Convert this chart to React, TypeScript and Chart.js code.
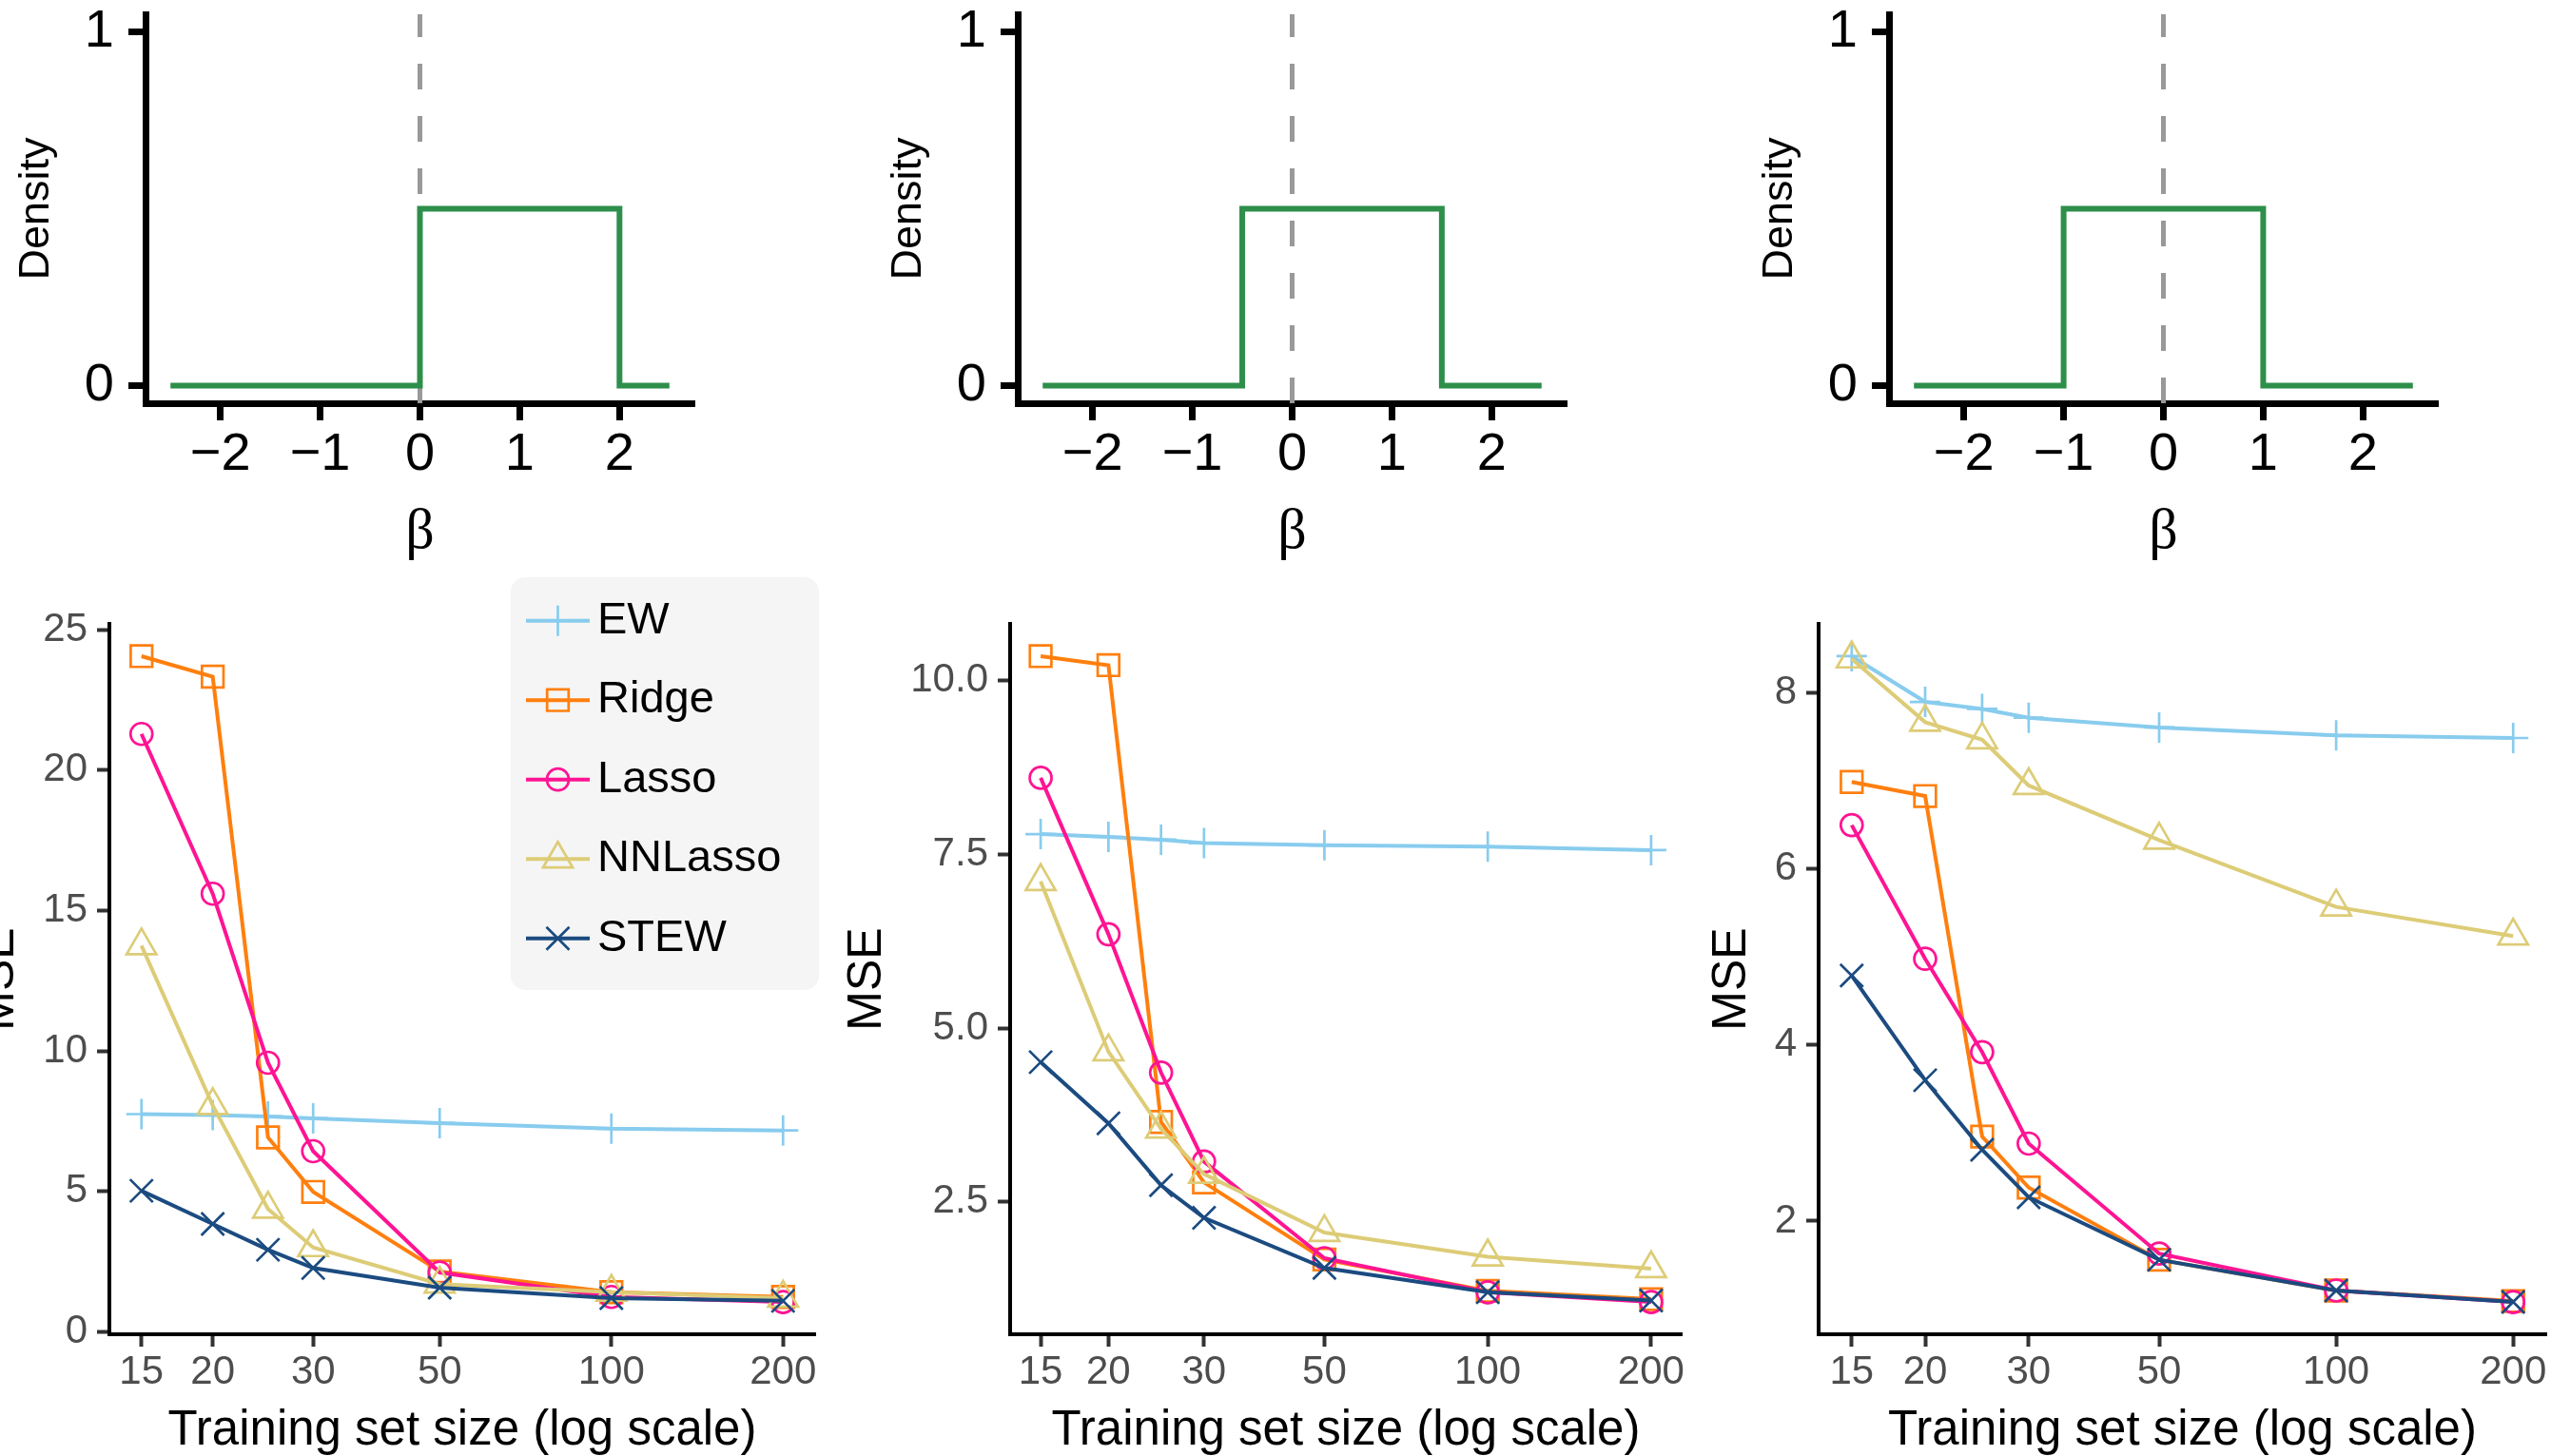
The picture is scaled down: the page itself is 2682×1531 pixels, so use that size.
import React, { useEffect, useRef } from 'react';
import { Chart, registerables } from 'chart.js';

Chart.register(...registerables);

const SANS = "'Liberation Sans', Arial, Helvetica, sans-serif";
const SERIF = "'Liberation Serif', 'Times New Roman', serif";
Chart.defaults.font.family = SANS;

// ---------- Top row: prior densities of beta ----------
const densityY = [0, 0, 0.5, 0.5, 0, 0];
const densityX1 = [-2.5, 0, 0, 2, 2, 2.5];
const densityX2 = [-2.5, -0.5, -0.5, 1.5, 1.5, 2.5];
const densityX3 = [-2.5, -1, -1, 1, 1, 2.5];
const zeroLineX = [0, 0];
const zeroLineY = [-0.05, 1.05];
const betaTicks = [-2, -1, 0, 1, 2];
const densityTicks = [0, 1];
const betaRange = [-2.75, 2.75];
const densityRange = [-0.05, 1.05];

// ---------- Bottom row: MSE vs training set size ----------
const trainSizes = [15, 20, 25, 30, 50, 100, 200];
const sizeTicks = [15, 20, 30, 50, 100, 200];
const methods = ['EW', 'Ridge', 'Lasso', 'NNLasso', 'STEW'];
const methodColors = ['#88CCEE', '#FF7F0E', '#FF1493', '#DDCC77', '#1B4B80'];
const methodShapes = ['cross', 'rect', 'circle', 'triangle', 'crossRot'];
const methodRadii = [16, 16, 11.5, 18, 17];

const mse1EW = [7.75, 7.72, 7.67, 7.6, 7.43, 7.23, 7.17];
const mse1Ridge = [24.06, 23.33, 6.92, 4.98, 2.15, 1.41, 1.24];
const mse1Lasso = [21.29, 15.6, 9.58, 6.43, 2.11, 1.24, 1.06];
const mse1NNLasso = [13.75, 8.06, 4.37, 3.0, 1.7, 1.41, 1.2];
const mse1STEW = [5.02, 3.84, 2.92, 2.27, 1.57, 1.2, 1.1];

const mse2EW = [7.79, 7.75, 7.71, 7.66, 7.63, 7.61, 7.56];
const mse2Ridge = [10.35, 10.22, 3.65, 2.78, 1.67, 1.22, 1.1];
const mse2Lasso = [8.6, 6.35, 4.36, 3.08, 1.69, 1.2, 1.06];
const mse2NNLasso = [7.11, 4.66, 3.55, 2.9, 2.06, 1.71, 1.54];
const mse2STEW = [4.51, 3.63, 2.74, 2.27, 1.55, 1.2, 1.08];

const mse3EW = [8.42, 7.9, 7.82, 7.72, 7.61, 7.52, 7.49];
const mse3Ridge = [6.99, 6.83, 2.96, 2.38, 1.56, 1.21, 1.09];
const mse3Lasso = [6.5, 4.98, 3.92, 2.88, 1.63, 1.21, 1.08];
const mse3NNLasso = [8.39, 7.67, 7.47, 6.95, 6.33, 5.57, 5.24];
const mse3STEW = [4.79, 3.6, 2.81, 2.27, 1.56, 1.21, 1.08];

const mseTicks1 = [0, 5, 10, 15, 20, 25];
const mseTicks2 = [2.5, 5, 7.5, 10];
const mseTicks3 = [2, 4, 6, 8];

const panel1Series = [mse1EW, mse1Ridge, mse1Lasso, mse1NNLasso, mse1STEW];
const panel2Series = [mse2EW, mse2Ridge, mse2Lasso, mse2NNLasso, mse2STEW];
const panel3Series = [mse3EW, mse3Ridge, mse3Lasso, mse3NNLasso, mse3STEW];

const GREEN = '#2E8F4A';

// ---------- helpers ----------
const toPoints = (xs: number[], ys: number[]) => xs.map((x, i) => ({ x, y: ys[i] }));
const fixedTicks = (vals: number[]) => (scale: any) => {
  scale.ticks = vals.map((v) => ({ value: v }));
};
const minusFmt = (v: any) => (Number(v) < 0 ? '\u2212' + Math.abs(Number(v)) : String(v));
const intFmt = (v: any) => String(Math.round(Number(v)));
const oneDecFmt = (v: any) => Number(v).toFixed(1);

function expandLinear(series: number[][]) {
  const all = series.flat();
  const lo = Math.min(...all);
  const hi = Math.max(...all);
  const pad = (hi - lo) * 0.05;
  return [lo - pad, hi + pad];
}
function expandLog(vals: number[]) {
  const lo = Math.log10(Math.min(...vals));
  const hi = Math.log10(Math.max(...vals));
  const pad = (hi - lo) * 0.05;
  return [Math.pow(10, lo - pad), Math.pow(10, hi + pad)];
}

function drawMarker(ctx: CanvasRenderingContext2D, style: string, x: number, y: number, r: number) {
  ctx.beginPath();
  if (style === 'cross') {
    ctx.moveTo(x, y - r);
    ctx.lineTo(x, y + r);
    ctx.moveTo(x - r, y);
    ctx.lineTo(x + r, y);
  } else if (style === 'crossRot') {
    const d = r * Math.SQRT1_2;
    ctx.moveTo(x - d, y - d);
    ctx.lineTo(x + d, y + d);
    ctx.moveTo(x - d, y + d);
    ctx.lineTo(x + d, y - d);
  } else if (style === 'rect') {
    const s = r * Math.SQRT1_2;
    ctx.rect(x - s, y - s, 2 * s, 2 * s);
  } else if (style === 'circle') {
    ctx.arc(x, y, r, 0, Math.PI * 2);
  } else if (style === 'triangle') {
    ctx.moveTo(x, y - r);
    ctx.lineTo(x + r * Math.sin((2 * Math.PI) / 3), y + r * 0.5);
    ctx.lineTo(x - r * Math.sin((2 * Math.PI) / 3), y + r * 0.5);
    ctx.closePath();
  }
  ctx.stroke();
}

const insideLegend = {
  id: 'insideLegend',
  afterDraw(chart: any) {
    const { ctx, chartArea } = chart;
    const boxL = chartArea.right - 320;
    const boxR = chartArea.right + 4;
    const boxT = chartArea.top - 49;
    const boxB = chartArea.top + 385;
    const rad = 15;
    ctx.save();
    ctx.beginPath();
    ctx.moveTo(boxL + rad, boxT);
    ctx.lineTo(boxR - rad, boxT);
    ctx.arcTo(boxR, boxT, boxR, boxT + rad, rad);
    ctx.lineTo(boxR, boxB - rad);
    ctx.arcTo(boxR, boxB, boxR - rad, boxB, rad);
    ctx.lineTo(boxL + rad, boxB);
    ctx.arcTo(boxL, boxB, boxL, boxB - rad, rad);
    ctx.lineTo(boxL, boxT + rad);
    ctx.arcTo(boxL, boxT, boxL + rad, boxT, rad);
    ctx.closePath();
    ctx.fillStyle = '#F5F5F5';
    ctx.fill();

    const datasets = chart.data.datasets;
    datasets.forEach((ds: any, i: number) => {
      const cy = boxT + 45.7 + i * 83.5;
      ctx.strokeStyle = ds.borderColor;
      ctx.lineWidth = 4;
      ctx.lineCap = 'butt';
      ctx.beginPath();
      ctx.moveTo(boxL + 16, cy);
      ctx.lineTo(boxL + 83, cy);
      ctx.stroke();
      ctx.lineWidth = 2.7;
      drawMarker(ctx, ds.pointStyle, boxL + 49.5, cy, ds.pointRadius);
      ctx.fillStyle = '#000';
      ctx.font = `47px ${SANS}`;
      ctx.textAlign = 'left';
      ctx.textBaseline = 'middle';
      ctx.fillText(ds.label, boxL + 91, cy);
    });
    ctx.restore();
  },
};

// ---------- configs ----------
function densityConfig(xs: number[], yWidth: number, rightPad: number): any {
  return {
    type: 'line',
    data: {
      datasets: [
        {
          data: toPoints(xs, densityY),
          borderColor: GREEN,
          borderWidth: 6,
          pointRadius: 0,
          borderJoinStyle: 'miter',
          borderCapStyle: 'butt',
          tension: 0,
          order: 1,
        },
        {
          data: toPoints(zeroLineX, zeroLineY),
          borderColor: '#999999',
          borderWidth: 5,
          borderDash: [27, 28],
          pointRadius: 0,
          tension: 0,
          order: 2,
        },
      ],
    },
    options: {
      responsive: false,
      animation: false,
      events: [],
      layout: { autoPadding: false, padding: { top: 15, right: rightPad, left: 0, bottom: 0 } },
      plugins: { legend: { display: false }, tooltip: { enabled: false }, title: { display: false } },
      scales: {
        x: {
          type: 'linear',
          min: betaRange[0],
          max: betaRange[1],
          bounds: 'data',
          afterBuildTicks: fixedTicks(betaTicks),
          afterFit: (s: any) => {
            s.height = 176;
            s.paddingLeft = 0;
            s.paddingRight = 0;
          },
          ticks: {
            color: '#000',
            font: { size: 56, family: SANS },
            padding: 3,
            autoSkip: false,
            maxRotation: 0,
            minRotation: 0,
            callback: minusFmt,
          },
          grid: { display: true, drawOnChartArea: false, drawTicks: true, tickLength: 18, tickWidth: 7, tickColor: '#000' },
          border: { display: true, color: '#000', width: 7 },
          title: {
            display: true,
            text: '\u03B2',
            color: '#000',
            font: { size: 60, family: SERIF, lineHeight: 1 },
            padding: { top: 0, bottom: 10 },
          },
        },
        y: {
          type: 'linear',
          min: densityRange[0],
          max: densityRange[1],
          bounds: 'data',
          afterBuildTicks: fixedTicks(densityTicks),
          afterFit: (s: any) => {
            s.width = yWidth;
            s.paddingTop = 0;
            s.paddingBottom = 0;
          },
          ticks: { color: '#000', font: { size: 56, family: SANS }, padding: 15, autoSkip: false, callback: intFmt },
          grid: { display: true, drawOnChartArea: false, drawTicks: true, tickLength: 18, tickWidth: 7, tickColor: '#000' },
          border: { display: true, color: '#000', width: 7 },
          title: {
            display: true,
            text: 'Density',
            color: '#000',
            font: { size: 45, family: SANS, lineHeight: 1 },
            padding: { top: 16, bottom: 0 },
          },
        },
      },
    },
  };
}

function mseConfig(series: number[][], yTicks: number[], fmt: (v: any) => string, yWidth: number, rightPad: number, withLegend: boolean): any {
  const [yMin, yMax] = expandLinear(series);
  const [xMin, xMax] = expandLog(trainSizes);
  return {
    type: 'line',
    data: {
      datasets: series.map((ys, i) => ({
        label: methods[i],
        data: toPoints(trainSizes, ys),
        borderColor: methodColors[i],
        backgroundColor: methodColors[i],
        borderWidth: 4,
        tension: 0,
        pointStyle: methodShapes[i],
        pointRadius: methodRadii[i],
        pointBorderWidth: 2.7,
        pointBorderColor: methodColors[i],
        pointBackgroundColor: 'rgba(0,0,0,0)',
        order: methods.length - i,
      })),
    },
    plugins: withLegend ? [insideLegend] : [],
    options: {
      responsive: false,
      animation: false,
      events: [],
      layout: { autoPadding: false, padding: { top: 66, right: rightPad, left: 0, bottom: 0 } },
      plugins: { legend: { display: false }, tooltip: { enabled: false }, title: { display: false } },
      scales: {
        x: {
          type: 'logarithmic',
          min: xMin,
          max: xMax,
          bounds: 'data',
          afterBuildTicks: fixedTicks(sizeTicks),
          afterFit: (s: any) => {
            s.height = 128;
            s.paddingLeft = 0;
            s.paddingRight = 0;
          },
          ticks: {
            color: '#4D4D4D',
            font: { size: 42, family: SANS },
            padding: 2,
            autoSkip: false,
            maxRotation: 0,
            minRotation: 0,
            callback: (v: any) => String(v),
          },
          grid: { display: true, drawOnChartArea: false, drawTicks: true, tickLength: 13, tickWidth: 4, tickColor: '#333333' },
          border: { display: true, color: '#000', width: 4 },
          title: {
            display: true,
            text: 'Training set size (log scale)',
            color: '#000',
            font: { size: 51, family: SANS, lineHeight: 1 },
            padding: { top: 0, bottom: 1 },
          },
        },
        y: {
          type: 'linear',
          min: yMin,
          max: yMax,
          bounds: 'data',
          afterBuildTicks: fixedTicks(yTicks),
          afterFit: (s: any) => {
            s.width = yWidth;
            s.paddingTop = 0;
            s.paddingBottom = 0;
          },
          ticks: { color: '#4D4D4D', font: { size: 42, family: SANS }, padding: 10, autoSkip: false, callback: fmt },
          grid: { display: true, drawOnChartArea: false, drawTicks: true, tickLength: 13, tickWidth: 4, tickColor: '#333333' },
          border: { display: true, color: '#000', width: 4 },
          title: {
            display: true,
            text: 'MSE',
            color: '#000',
            font: { size: 50, family: SANS, lineHeight: 1 },
            padding: { top: 0, bottom: 0 },
          },
        },
      },
    },
  };
}

function Panel(props: { left: number; top: number; width: number; height: number; makeConfig: () => any }) {
  const { left, top, width, height, makeConfig } = props;
  const ref = useRef<HTMLCanvasElement | null>(null);
  useEffect(() => {
    const chart = new Chart(ref.current as HTMLCanvasElement, makeConfig());
    return () => chart.destroy();
  }, []);
  return (
    <canvas
      ref={ref}
      width={width}
      height={height}
      style={{ position: 'absolute', left, top, width, height }}
    />
  );
}

export default function App() {
  return (
    <div
      style={{
        position: 'absolute',
        left: 0,
        top: 0,
        width: 2682,
        height: 1531,
        overflow: 'hidden',
        background: '#ffffff',
      }}
    >
      <Panel left={0} top={0} width={800} height={600} makeConfig={() => densityConfig(densityX1, 153, 70)} />
      <Panel left={917} top={0} width={800} height={600} makeConfig={() => densityConfig(densityX2, 153, 70)} />
      <Panel left={1833} top={0} width={800} height={600} makeConfig={() => densityConfig(densityX3, 153, 70)} />
      <Panel left={-25} top={590} width={905} height={941} makeConfig={() => mseConfig(panel1Series, mseTicks1, intFmt, 140, 23, true)} />
      <Panel left={887} top={590} width={903} height={941} makeConfig={() => mseConfig(panel2Series, mseTicks2, oneDecFmt, 175, 22, false)} />
      <Panel left={1796} top={590} width={886} height={941} makeConfig={() => mseConfig(panel3Series, mseTicks3, intFmt, 116, 5, false)} />
    </div>
  );
}
